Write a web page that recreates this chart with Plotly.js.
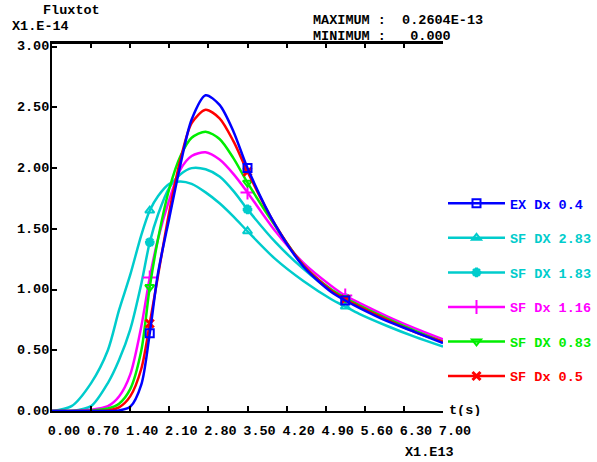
<!DOCTYPE html>
<html>
<head>
<meta charset="utf-8">
<script src="https://cdn.plot.ly/plotly-3.0.1.min.js"></script>
<style>html,body{margin:0;padding:0;background:#fff;}#chart{width:597px;height:462px;}</style>
</head>
<body>
<div id="chart"></div>
<script>
// time axis (units of 1.E13 s)
const t        = [0, 0.35, 0.7, 1.0, 1.2, 1.4, 1.6, 1.75, 1.9, 2.1, 2.3, 2.5, 2.75, 3.0, 3.25, 3.5, 4.0, 4.5, 5.0, 5.25, 5.5, 6.0, 6.5, 7.0];
// Fluxtot (units of 1.E-14)
const exDx04   = [0, 0, 0, 0.0, 0.005, 0.035, 0.22, 0.64, 1.14, 1.59, 2.03, 2.40, 2.60, 2.52, 2.30, 2.00, 1.53, 1.19, 0.98, 0.91, 0.85, 0.74, 0.65, 0.56];
const sfDx283  = [0, 0.04, 0.23, 0.50, 0.83, 1.12, 1.45, 1.65, 1.77, 1.87, 1.89, 1.87, 1.80, 1.71, 1.60, 1.48, 1.25, 1.07, 0.92, 0.86, 0.80, 0.70, 0.61, 0.53];
const sfDx183  = [0, 0.0, 0.04, 0.23, 0.42, 0.67, 1.05, 1.39, 1.62, 1.84, 1.95, 2.00, 1.99, 1.93, 1.81, 1.66, 1.39, 1.17, 0.99, 0.93, 0.87, 0.76, 0.66, 0.57];
const sfDx116  = [0, 0, 0.01, 0.04, 0.12, 0.30, 0.70, 1.10, 1.42, 1.74, 1.99, 2.10, 2.13, 2.07, 1.95, 1.80, 1.48, 1.22, 1.03, 0.95, 0.89, 0.78, 0.68, 0.59];
const sfDx083  = [0, 0, 0.003, 0.02, 0.06, 0.18, 0.50, 1.02, 1.42, 1.83, 2.10, 2.25, 2.30, 2.24, 2.08, 1.88, 1.52, 1.20, 1.00, 0.93, 0.87, 0.76, 0.66, 0.57];
const sfDx05   = [0, 0, 0, 0.005, 0.03, 0.12, 0.35, 0.72, 1.12, 1.64, 2.07, 2.37, 2.48, 2.41, 2.22, 1.97, 1.53, 1.20, 0.99, 0.92, 0.86, 0.75, 0.65, 0.57];
const seriesNames = ['EX Dx 0.4', 'SF DX 2.83', 'SF DX 1.83', 'SF Dx 1.16', 'SF DX 0.83', 'SF Dx 0.5'];
const markerT  = [1.75, 3.5, 5.25];
const xTickVals = [0, 0.7, 1.4, 2.1, 2.8, 3.5, 4.2, 4.9, 5.6, 6.3, 7.0];
const yTickVals = [0, 0.5, 1.0, 1.5, 2.0, 2.5, 3.0];

const seriesValues = [exDx04, sfDx283, sfDx183, sfDx116, sfDx083, sfDx05];
const styles = [
  {color: '#0000ff', symbol: 'square-open', size: 8, lw: 2},
  {color: '#00cccc', symbol: 'triangle-up-open', size: 8, lw: 2},
  {color: '#00cccc', symbol: 'asterisk-open', size: 8, lw: 3},
  {color: '#ff00ff', symbol: 'cross-thin-open', size: 10, lw: 2},
  {color: '#00ee00', symbol: 'triangle-down-open', size: 8, lw: 2},
  {color: '#ff0000', symbol: 'x-thin-open', size: 8, lw: 3}
];
const FONT = '"Liberation Mono", "DejaVu Sans Mono", monospace';
const FS = 13.5;

const traces = [];
const drawOrder = [1, 2, 3, 4, 5, 0];
drawOrder.forEach(i => {
  const s = styles[i];
  traces.push({
    x: t, y: seriesValues[i], type: 'scatter', mode: 'lines',
    line: {color: s.color, width: 2.5, shape: 'spline', smoothing: 0.8},
    showlegend: false, hoverinfo: 'skip'
  });
  const mx = [], my = [];
  markerT.forEach(m => { const k = t.indexOf(m); if (k >= 0) { mx.push(t[k]); my.push(seriesValues[i][k]); } });
  traces.push({
    x: mx, y: my, type: 'scatter', mode: 'markers',
    marker: {color: s.color, symbol: s.symbol, size: s.size, line: {color: s.color, width: s.lw}},
    showlegend: false, hoverinfo: 'skip'
  });
});
// legend entries
seriesNames.forEach((n, i) => {
  const s = styles[i];
  traces.push({
    x: [null], y: [null], type: 'scatter', mode: 'lines+markers',
    name: '<span style="color:' + s.color + '">' + n + '</span>',
    legendgroup: 'g' + i,
    line: {color: s.color, width: 2.5},
    marker: {color: s.color, symbol: s.symbol, size: s.size, line: {color: s.color, width: s.lw}}
  });
});

const L = 52, R = 154, T = 43, B = 51;
const W = 597 - L - R, H = 462 - T - B;
const px = x => (x - L) / W;
const py = y => (462 - B - y) / H;

const annFont = {family: FONT, size: FS, color: '#000', weight: 'bold'};
const ann = (text, x, y, xa) => ({text: text, x: px(x), y: py(y), xref: 'paper', yref: 'paper',
  xanchor: xa, yanchor: 'middle', showarrow: false, font: annFont, height: 12, borderpad: 0});
const layout = {
  width: 597, height: 462,
  margin: {l: L, r: R, t: T, b: B, pad: 0, autoexpand: false},
  paper_bgcolor: '#fff', plot_bgcolor: '#fff',
  font: {family: FONT, size: FS, color: '#000', weight: 'bold'},
  showlegend: true,
  legend: {
    x: px(443), y: py(188), xanchor: 'left', yanchor: 'top',
    traceorder: 'grouped', tracegroupgap: 14, itemwidth: 57,
    bgcolor: 'rgba(0,0,0,0)', borderwidth: 0,
    font: {family: FONT, size: FS, weight: 'bold'}
  },
  xaxis: {
    range: [0, 7], tickvals: xTickVals, tickformat: '.2f',
    ticks: 'inside', ticklen: 5, tickwidth: 2, tickcolor: '#000',
    showline: true, linewidth: 2, linecolor: '#000', mirror: 'ticks',
    showgrid: false, zeroline: false,
    ticklabelshift: 12, ticklabelstandoff: 6,
    tickfont: {family: FONT, size: FS, weight: 'bold'}
  },
  yaxis: {
    range: [0, 3.03], tickvals: yTickVals, tickformat: '.2f',
    ticks: 'inside', ticklen: 5, tickwidth: 2, tickcolor: '#000',
    showline: true, linewidth: 2, linecolor: '#000',
    showgrid: false, zeroline: false,
    ticklabelshift: -1, ticklabelstandoff: -2,
    tickfont: {family: FONT, size: FS, weight: 'bold'}
  },
  yaxis2: {
    overlaying: 'y', side: 'right', range: [0, 3.03], tickvals: yTickVals,
    ticks: 'outside', ticklen: 4, tickwidth: 2, tickcolor: '#000',
    showline: true, linewidth: 2, linecolor: '#000',
    showticklabels: false, showgrid: false, zeroline: false
  },
  shapes: [
    {type: 'line', xref: 'paper', yref: 'paper', x0: 0, x1: 1, y0: 1, y1: 1, line: {color: '#000', width: 2}}
  ],
  annotations: [
    ann('Fluxtot', 71.5, 10.5, 'center'),
    ann('X1.E-14', 40, 25.5, 'center'),
    ann('MAXIMUM :\u00a0\u00a00.2604E-13', 312, 20.5, 'left'),
    ann('MINIMUM :\u00a0\u00a0\u00a00.000', 312, 35.5, 'left'),
    ann('t(s)', 448, 410, 'left'),
    ann('X1.E13', 429, 452, 'center')
  ]
};

Plotly.newPlot('chart', traces, layout, {displayModeBar: false, staticPlot: true});
</script>
</body>
</html>
